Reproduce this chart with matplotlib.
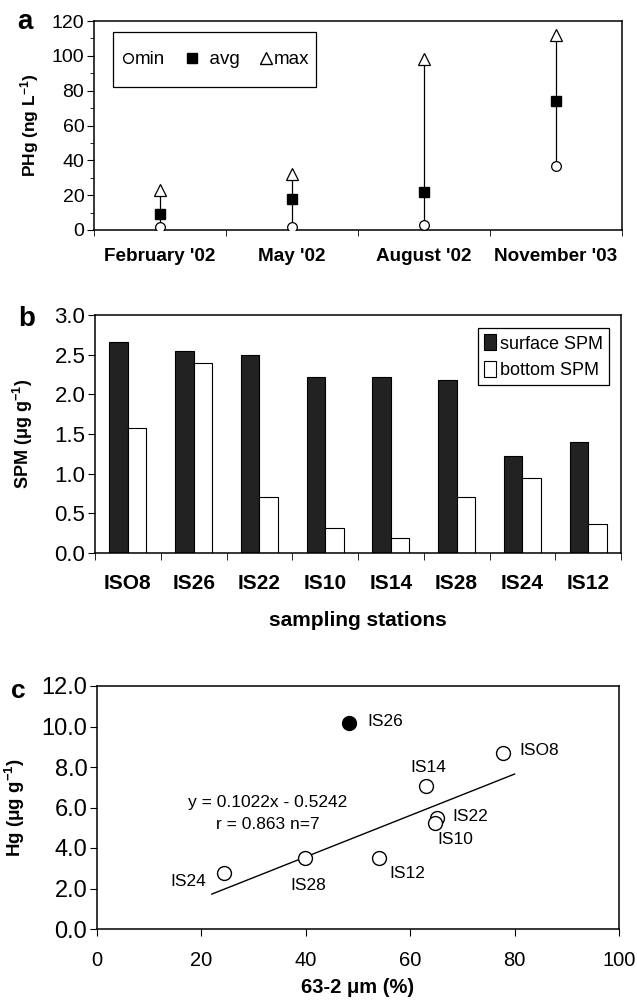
import numpy as np
import matplotlib
matplotlib.use('Agg')
import matplotlib.pyplot as plt
from matplotlib.lines import Line2D
from matplotlib.patches import Rectangle

plt.rcParams['font.family'] = ['Liberation Sans', 'DejaVu Sans']
plt.rcParams['mathtext.fontset'] = 'custom'
plt.rcParams['mathtext.rm'] = 'Liberation Sans'
plt.rcParams['mathtext.bf'] = 'Liberation Sans:bold'
plt.rcParams['mathtext.default'] = 'bf'

# panel a: particulate Hg per campaign
campaigns = ["February '02", "May '02", "August '02", "November '03"]
phg_min = [2, 2, 3, 37]
phg_avg = [9, 18, 22, 74]
phg_max = [23, 32, 98, 112]

# panel b: SPM per station
stations = ['ISO8', 'IS26', 'IS22', 'IS10', 'IS14', 'IS28', 'IS24', 'IS12']
spm_surface = [2.66, 2.54, 2.49, 2.22, 2.22, 2.18, 1.22, 1.40]
spm_bottom = [1.57, 2.40, 0.71, 0.31, 0.19, 0.71, 0.94, 0.36]

# panel c: Hg vs fine fraction
pts = ['ISO8', 'IS26', 'IS22', 'IS10', 'IS14', 'IS28', 'IS24', 'IS12']
frac = [77.8, 48.3, 65.1, 64.7, 63.1, 39.8, 24.3, 54.0]
hg = [8.71, 10.19, 5.47, 5.22, 7.06, 3.49, 2.75, 3.49]
slope, icpt = 0.1022, -0.5242
fit_x = [22, 80]

fig = plt.figure(figsize=(6.37, 10.02), dpi=100)
W, H = 637.0, 1002.0

def rect(x0, x1, y0, y1):
    return [x0 / W, 1 - y1 / H, (x1 - x0) / W, (y1 - y0) / H]

# ---------- a ----------
ax = fig.add_axes(rect(94, 622, 21, 230))
xs = np.arange(len(campaigns))
for i in xs:
    ax.plot([i, i], [phg_min[i], phg_max[i]], color='black', lw=0.9, zorder=1)
ax.plot(xs, phg_min, 'o', ms=7, mfc='white', mec='black', mew=0.9, ls='none', zorder=3)
ax.plot(xs, phg_avg, 's', ms=7.5, mfc='black', mec='black', ls='none', zorder=3)
ax.plot(xs, phg_max, '^', ms=8, mfc='white', mec='black', mew=0.9, ls='none', zorder=3)
ax.set_xlim(-0.5, 3.5)
ax.set_ylim(0, 120)
ax.set_yticks(range(0, 121, 20))
ax.set_yticks(range(0, 121, 10), minor=True)
ax.set_xticks(xs)
ax.set_xticklabels(campaigns, fontweight='bold', fontsize=13.6)
ax.set_xticks(np.arange(-0.5, 4, 1), minor=True)
ax.tick_params(axis='x', which='major', length=0, pad=13)
ax.tick_params(axis='x', which='minor', length=4, direction='out')
ax.tick_params(axis='y', which='major', length=5, labelsize=14, pad=2)
ax.tick_params(axis='y', which='minor', length=3)
ax.set_ylabel('PHg (ng L$^{-1}$)', fontweight='bold', fontsize=12.5)
ax.yaxis.set_label_coords(-0.10, 0.5)
# legend box drawn by hand, entries inside it
lx0, lx1 = (113 - 94) / 528, (316 - 94) / 528
ly0, ly1 = 1 - (87 - 21) / 209, 1 - (32 - 21) / 209
ax.add_patch(Rectangle((lx0, ly0), lx1 - lx0, ly1 - ly0, transform=ax.transAxes,
                       fill=True, fc='white', ec='black', lw=0.9, zorder=4))
handles = [Line2D([], [], marker='o', ls='none', mfc='white', mec='black', ms=7),
           Line2D([], [], marker='s', ls='none', mfc='black', mec='black', ms=7.5),
           Line2D([], [], marker='^', ls='none', mfc='white', mec='black', ms=8)]
leg = ax.legend(handles, ['min', '  avg', 'max'], ncol=3, loc='center left',
                bbox_to_anchor=(lx0 + 9 / 528, (ly0 + ly1) / 2), fontsize=13.5,
                handletextpad=0.1, columnspacing=1.1, borderpad=0, borderaxespad=0,
                handlelength=0.6, frameon=False)
leg.set_zorder(5)
fig.text(17 / W, 1 - 29 / H, 'a', fontsize=20, fontweight='bold')

# ---------- b ----------
ax = fig.add_axes(rect(95, 621, 315, 553))
xb = np.arange(len(stations))
bw = 0.28
ax.bar(xb - bw / 2, spm_surface, bw, color='#222222', edgecolor='black', lw=0.8,
       label='surface SPM')
ax.bar(xb + bw / 2, spm_bottom, bw, color='white', edgecolor='black', lw=0.8,
       label='bottom SPM')
ax.set_xlim(-0.5, 7.5)
ax.set_ylim(0, 3.0)
ax.set_yticks(np.arange(0, 3.01, 0.5))
ax.set_yticklabels(['%.1f' % v for v in np.arange(0, 3.01, 0.5)])
ax.set_xticks(xb)
ax.set_xticklabels(stations, fontweight='bold', fontsize=15)
ax.set_xticks(np.arange(-0.5, 8, 1), minor=True)
ax.tick_params(axis='x', which='major', length=0, pad=15)
ax.tick_params(axis='x', which='minor', length=5)
ax.tick_params(axis='y', length=5, labelsize=16, pad=2)
ax.set_ylabel('SPM (\u03bcg g$^{-1}$)', fontweight='bold', fontsize=13)
ax.yaxis.set_label_coords(-0.114, 0.5)
ax.set_xlabel('sampling stations', fontweight='bold', fontsize=15)
ax.xaxis.set_label_coords(0.5, -0.245)
leg = ax.legend(loc='upper right', bbox_to_anchor=((609 - 95) / 526, 1 - 13 / 238),
                fontsize=13, handlelength=0.65, handleheight=1.0, handletextpad=0.2,
                borderpad=0.35, labelspacing=0.45, borderaxespad=0, fancybox=False,
                edgecolor='black', framealpha=1)
leg.get_frame().set_linewidth(0.9)
fig.text(18 / W, 1 - 326 / H, 'b', fontsize=20, fontweight='bold')

# ---------- c ----------
ax = fig.add_axes(rect(97, 619, 686, 929))
for name, x, y in zip(pts, frac, hg):
    fc = 'black' if name == 'IS26' else 'white'
    ax.plot(x, y, 'o', ms=10, mfc=fc, mec='black', mew=1.0, zorder=3)
ax.plot(fit_x, [slope * v + icpt for v in fit_x], color='black', lw=1.0, zorder=2)
lab_pos = {'IS26': (51.8, 10.27, 'left'), 'ISO8': (80.9, 8.8, 'left'),
           'IS14': (63.5, 8.0, 'center'), 'IS22': (68.0, 5.58, 'left'),
           'IS10': (65.3, 4.43, 'left'), 'IS12': (56.1, 2.75, 'left'),
           'IS28': (40.5, 2.17, 'center'), 'IS24': (20.9, 2.34, 'right')}
for name, (tx, ty, ha) in lab_pos.items():
    ax.text(tx, ty, name, ha=ha, va='center', fontsize=12.5)
ax.text(32.7, 6.24, 'y = 0.1022x - 0.5242', ha='center', va='center', fontsize=12.5)
ax.text(32.7, 5.17, 'r = 0.863 n=7', ha='center', va='center', fontsize=12.5)
ax.set_xlim(0, 100)
ax.set_ylim(0, 12)
ax.set_xticks(range(0, 101, 20))
ax.set_yticks(np.arange(0, 12.1, 2))
ax.set_yticklabels(['%.1f' % v for v in np.arange(0, 12.1, 2)])
ax.tick_params(axis='both', length=5)
ax.tick_params(axis='x', pad=11, labelsize=14.5)
ax.tick_params(axis='y', pad=2, labelsize=17)
ax.set_ylabel('Hg (\u03bcg g$^{-1}$)', fontweight='bold', fontsize=13.5)
ax.yaxis.set_label_coords(-0.135, 0.5)
ax.set_xlabel('63-2 \u03bcm (%)', fontweight='bold', fontsize=14.5)
ax.xaxis.set_label_coords(0.5, -0.2)
fig.text(11 / W, 1 - 698 / H, 'c', fontsize=19, fontweight='bold')

for a in fig.axes:
    for s in a.spines.values():
        s.set_linewidth(1.1)

fig.savefig('out.png', dpi=100)
